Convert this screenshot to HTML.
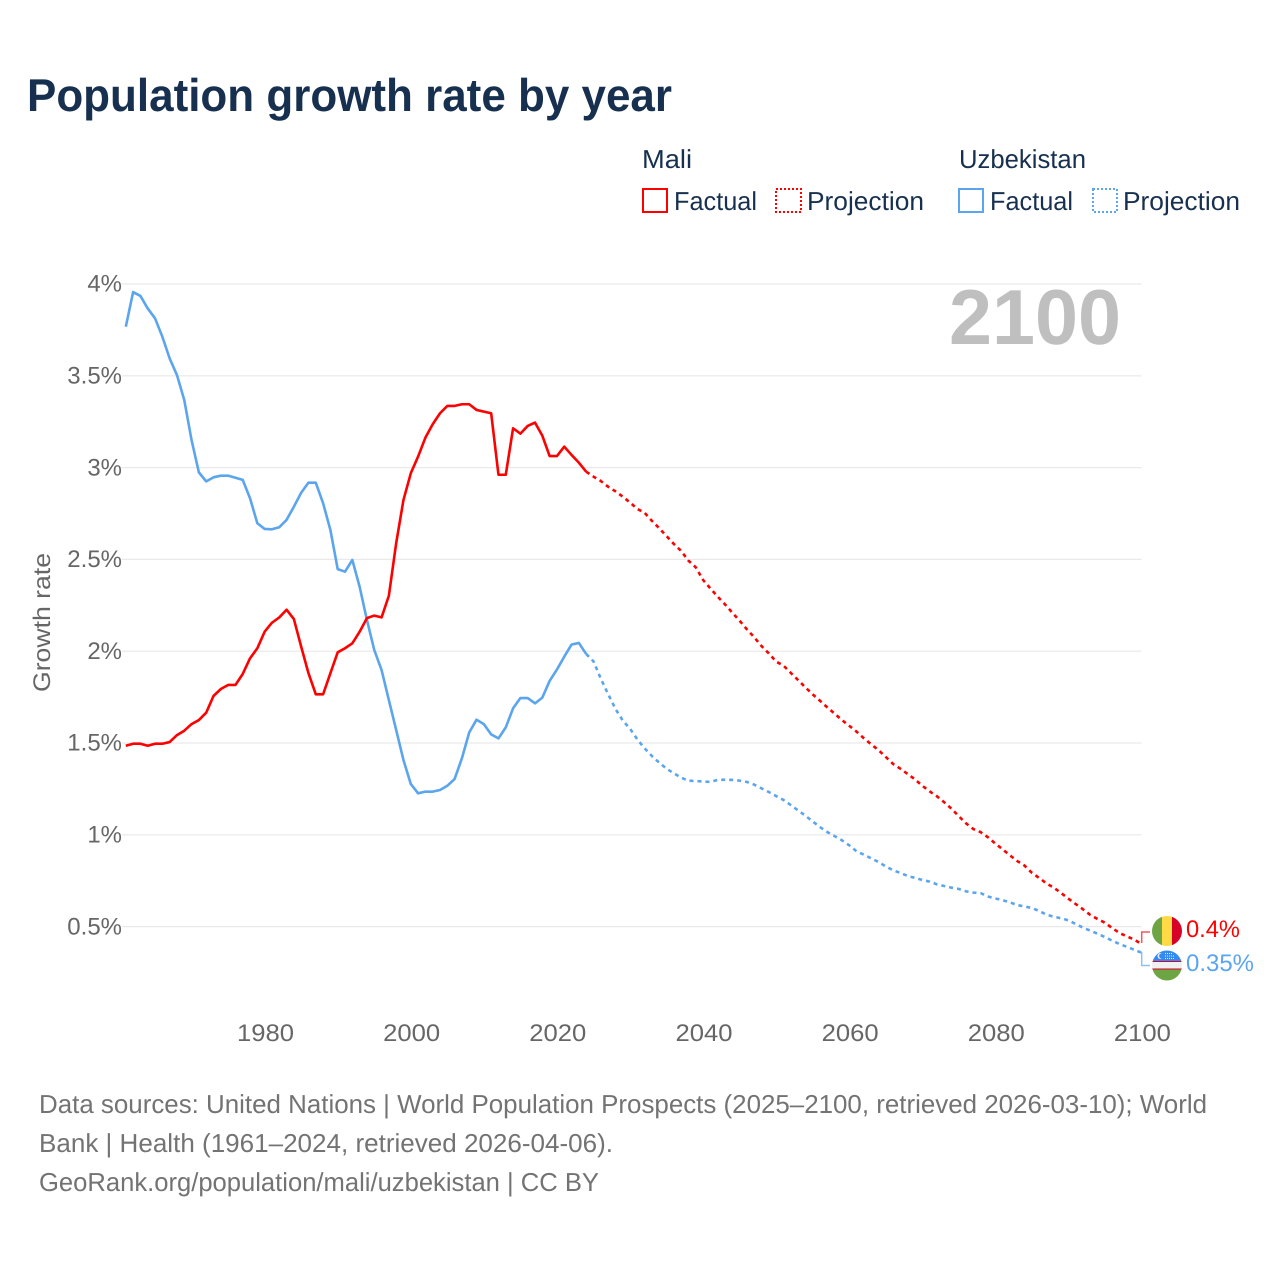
<!DOCTYPE html>
<html lang="en">
<head>
<meta charset="utf-8">
<title>Population growth rate by year</title>
<style>
html,body{margin:0;padding:0;background:#fff;}
svg{display:block;font-family:"Liberation Sans",sans-serif;text-rendering:geometricPrecision;}
</style>
</head>
<body>
<svg id="chart" xmlns="http://www.w3.org/2000/svg" width="1280" height="1280" viewBox="0 0 1280 1280">
  <rect x="0" y="0" width="1280" height="1280" fill="#ffffff"/>
  <text x="27" y="111" font-size="46" font-weight="700" fill="#17304f" textLength="645" lengthAdjust="spacingAndGlyphs">Population growth rate by year</text>

  <g font-size="26" fill="#17304f">
    <text x="642" y="168" textLength="50" lengthAdjust="spacingAndGlyphs">Mali</text>
    <text x="959" y="168" textLength="127" lengthAdjust="spacingAndGlyphs">Uzbekistan</text>
    <g>
      <rect x="643" y="189" width="24" height="23" fill="none" stroke="#ff0000" stroke-width="2"/>
      <text x="674" y="210" textLength="83" lengthAdjust="spacingAndGlyphs">Factual</text>
    </g>
    <g>
      <rect x="776" y="189" width="25" height="23" fill="none" stroke="#ff0000" stroke-width="2" stroke-dasharray="2 2"/>
      <text x="807" y="210" textLength="117" lengthAdjust="spacingAndGlyphs">Projection</text>
    </g>
    <g>
      <rect x="959" y="189" width="24" height="23" fill="none" stroke="#5ba5ef" stroke-width="2"/>
      <text x="990" y="210" textLength="83" lengthAdjust="spacingAndGlyphs">Factual</text>
    </g>
    <g>
      <rect x="1093" y="189" width="24" height="23" fill="none" stroke="#5ba5ef" stroke-width="2" stroke-dasharray="2 2"/>
      <text x="1123" y="210" textLength="117" lengthAdjust="spacingAndGlyphs">Projection</text>
    </g>
  </g>

  <g id="grid"></g>
  <text x="949" y="344" font-size="78" font-weight="700" fill="#bfbfbf" textLength="172" lengthAdjust="spacingAndGlyphs">2100</text>
  <g id="y-ticks" font-size="24" fill="#666666" text-anchor="end"></g>
  <g id="x-ticks" font-size="24" fill="#666666" text-anchor="middle"></g>
  <text transform="translate(50,692) rotate(-90)" font-size="24" fill="#666666" textLength="139" lengthAdjust="spacingAndGlyphs">Growth rate</text>
  <g id="series"></g>

  <g fill="none" stroke-width="1.5">
    <path d="M1141.7 943V932H1150" stroke="#f45a5a"/>
    <path d="M1141.7 952V965.5H1150" stroke="#8fc0f3"/>
  </g>

  <defs>
    <clipPath id="flag-clip-mali"><circle cx="1167" cy="931" r="15"/></clipPath>
    <clipPath id="flag-clip-uz"><circle cx="1167" cy="965.5" r="15"/></clipPath>
  </defs>
  <g clip-path="url(#flag-clip-mali)">
    <rect x="1152" y="916" width="10" height="30" fill="#6da544"/>
    <rect x="1162" y="916" width="10" height="30" fill="#ffda44"/>
    <rect x="1172" y="916" width="10" height="30" fill="#d80027"/>
  </g>
  <g clip-path="url(#flag-clip-uz)">
    <rect x="1152" y="950" width="30" height="11" fill="#338af3"/>
    <rect x="1152" y="961" width="30" height="8" fill="#f0f0f0"/>
    <rect x="1152" y="961" width="30" height="1" fill="#d80027"/>
    <rect x="1152" y="968.5" width="30" height="1" fill="#d80027"/>
    <rect x="1152" y="969.5" width="30" height="12" fill="#6da544"/>
    <circle cx="1160.5" cy="956" r="3" fill="#f0f0f0"/>
    <circle cx="1161.8" cy="956" r="2.7" fill="#338af3"/>
    <path d="M1165 953.5h8M1165 956h10M1165 958.5h10" stroke="#f0f0f0" stroke-width="1" stroke-dasharray="1 1"/>
  </g>

  <text x="1186" y="937" font-size="24" fill="#ff0000" textLength="54" lengthAdjust="spacingAndGlyphs">0.4%</text>
  <text x="1186" y="971" font-size="24" fill="#5ba5ef" textLength="68" lengthAdjust="spacingAndGlyphs">0.35%</text>

  <g font-size="26" fill="#737373">
    <text x="39" y="1113" textLength="1168" lengthAdjust="spacingAndGlyphs">Data sources: United Nations | World Population Prospects (2025–2100, retrieved 2026-03-10); World</text>
    <text x="39" y="1152" textLength="574" lengthAdjust="spacingAndGlyphs">Bank | Health (1961–2024, retrieved 2026-04-06).</text>
    <text x="39" y="1191" textLength="560" lengthAdjust="spacingAndGlyphs">GeoRank.org/population/mali/uzbekistan | CC BY</text>
  </g>
</svg>
<script>
const factualStartYear = 1961;
const projectionStartYear = 2024;
const xTickYears = [1980, 2000, 2020, 2040, 2060, 2080, 2100];
const xTickLabels = ["1980", "2000", "2020", "2040", "2060", "2080", "2100"];
const yTickValues = [0.5, 1, 1.5, 2, 2.5, 3, 3.5, 4];
const yTickLabels = ["0.5%", "1%", "1.5%", "2%", "2.5%", "3%", "3.5%", "4%"];
const maliFactual = [
  1.485,1.496,1.496,1.485,1.496,1.496,1.505,1.543,1.567,1.603,
  1.625,1.665,1.756,1.794,1.816,1.816,1.876,1.961,2.016,2.106,
  2.155,2.184,2.226,2.175,2.025,1.88,1.765,1.765,1.88,1.994,
  2.016,2.043,2.106,2.18,2.194,2.184,2.302,2.588,2.824,2.969,
  3.06,3.163,3.236,3.296,3.336,3.336,3.345,3.345,3.314,3.305,
  3.296,2.961,2.961,3.214,3.185,3.227,3.245,3.174,3.063,3.063,
  3.114,3.069,3.027,2.978
];
const uzbekistanFactual = [
  3.767,3.956,3.935,3.867,3.813,3.713,3.595,3.504,3.368,3.15,
  2.974,2.925,2.947,2.956,2.956,2.945,2.933,2.833,2.697,2.666,
  2.664,2.675,2.715,2.787,2.863,2.918,2.918,2.806,2.66,2.447,
  2.433,2.497,2.351,2.17,2.007,1.898,1.734,1.571,1.407,1.277,
  1.226,1.235,1.235,1.244,1.267,1.304,1.417,1.558,1.627,1.603,
  1.547,1.525,1.585,1.689,1.745,1.745,1.716,1.747,1.838,1.9,
  1.97,2.036,2.045,1.985
];
const maliProjection = [
  2.978,2.951,2.927,2.896,2.871,2.842,2.81,2.775,2.754,2.71,2.67,
  2.627,2.584,2.546,2.493,2.457,2.388,2.342,2.297,2.255,2.21,
  2.166,2.119,2.076,2.028,1.988,1.943,1.922,1.882,1.843,1.803,
  1.765,1.73,1.694,1.66,1.625,1.594,1.562,1.526,1.493,1.462,
  1.424,1.386,1.36,1.331,1.302,1.267,1.237,1.21,1.177,1.142,
  1.101,1.062,1.031,1.014,0.986,0.952,0.921,0.888,0.857,0.832,
  0.793,0.765,0.735,0.712,0.683,0.652,0.623,0.594,0.563,0.541,
  0.521,0.492,0.465,0.447,0.429,0.405
];
const uzbekistanProjection = [
  1.985,1.945,1.851,1.767,1.687,1.623,1.578,1.52,1.471,1.429,1.393,
  1.36,1.335,1.311,1.295,1.293,1.29,1.288,1.299,1.3,1.299,
  1.295,1.288,1.273,1.253,1.233,1.211,1.19,1.162,1.133,1.104,
  1.073,1.042,1.015,0.993,0.97,0.943,0.91,0.892,0.872,0.852,
  0.828,0.807,0.792,0.776,0.765,0.754,0.745,0.73,0.721,0.712,
  0.705,0.692,0.685,0.682,0.664,0.653,0.644,0.632,0.617,0.61,
  0.601,0.585,0.565,0.554,0.545,0.534,0.514,0.494,0.478,0.461,
  0.443,0.423,0.405,0.39,0.374,0.358
];

const NS = "http://www.w3.org/2000/svg";
function xScale(year) { return 125.8 + (year - 1961) * (1015.7 / 139); }
function yScale(value) { return 284 + (4 - value) * 183.6; }
function linePath(values, startYear) {
  return values.map(function (v, i) {
    return (i ? "L" : "M") + xScale(startYear + i).toFixed(2) + " " + yScale(v).toFixed(2);
  }).join("");
}

const gridGroup = document.getElementById("grid");
const yTickGroup = document.getElementById("y-ticks");
yTickValues.forEach(function (v, i) {
  const line = document.createElementNS(NS, "line");
  
  
  line.setAttribute("x1", 122);
  line.setAttribute("x2", 1141.5);
  line.setAttribute("y1", yScale(v));
  line.setAttribute("y2", yScale(v));
  line.setAttribute("stroke", "#e9e9e9");
  line.setAttribute("stroke-width", "1.2");
  gridGroup.appendChild(line);
  const label = document.createElementNS(NS, "text");
  
  
  label.setAttribute("x", 122);
  label.setAttribute("y", yScale(v) + 7.7);
  label.textContent = yTickLabels[i];
  yTickGroup.appendChild(label);
});

const xTickGroup = document.getElementById("x-ticks");
xTickYears.forEach(function (year, i) {
  const label = document.createElementNS(NS, "text");
  
  
  label.setAttribute("x", xScale(year) + 0.9);
  label.setAttribute("y", 1041);
  label.setAttribute("textLength", 57);
  label.setAttribute("lengthAdjust", "spacingAndGlyphs");
  label.textContent = xTickLabels[i];
  xTickGroup.appendChild(label);
});

const seriesGroup = document.getElementById("series");
function addLine(values, startYear, color, dashed, name) {
  const path = document.createElementNS(NS, "path");
  
  
  path.setAttribute("d", linePath(values, startYear));
  path.setAttribute("fill", "none");
  path.setAttribute("stroke", color);
  path.setAttribute("stroke-width", "2.6");
  path.setAttribute("stroke-linejoin", "round");
  if (dashed) path.setAttribute("stroke-dasharray", "4 4");
  seriesGroup.appendChild(path);
}
addLine(uzbekistanFactual, factualStartYear, "#5ba5ef", false, "line-uzbekistan-factual");
addLine(uzbekistanProjection, projectionStartYear, "#5ba5ef", true, "line-uzbekistan-projection");
addLine(maliFactual, factualStartYear, "#ff0000", false, "line-mali-factual");
addLine(maliProjection, projectionStartYear, "#ff0000", true, "line-mali-projection");
</script>
</body>
</html>
